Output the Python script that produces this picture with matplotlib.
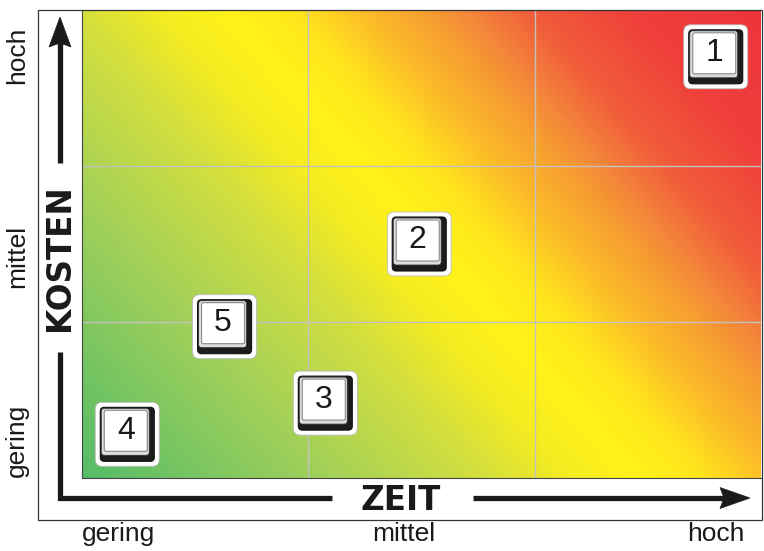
import numpy as np
import matplotlib
matplotlib.use('Agg')
import matplotlib.pyplot as plt
from matplotlib.colors import LinearSegmentedColormap
from matplotlib.patches import FancyBboxPatch, Rectangle, Polygon
import matplotlib.transforms as mtransforms
from matplotlib import font_manager

# ---------------- data ----------------
levels = ["gering", "mittel", "hoch"]
x_label_pos = [0.16, 1.42, 2.80]
y_label_pos = [0.24, 1.42, 2.71]
key_ids = ["1", "2", "3", "4", "5"]
key_zeit = [2.80, 1.49, 1.075, 0.20, 0.63]
key_kosten = [2.70, 1.50, 0.48, 0.28, 0.97]
x_axis_title = "ZEIT"
y_axis_title = "KOSTEN"

# ---------------- fonts ----------------
names = {f.name for f in font_manager.fontManager.ttflist}
label_font = 'Liberation Sans Narrow' if 'Liberation Sans Narrow' in names else 'Liberation Sans'
key_font = 'Liberation Sans'

W, H = 764, 551
fig = plt.figure(figsize=(W / 100, H / 100), dpi=100)


def fx(px):
    return px / W


def fy(py):
    return 1 - py / H


L, R, T, B = 82, 761, 10, 478
ax = fig.add_axes([fx(L), fy(B), (R - L) / W, (B - T) / H])
ax.set_xlim(0, 3)
ax.set_ylim(0, 3)

# gradient background
n = 600
gx = np.linspace(0, 3, n)
gy = np.linspace(0, 3, n)
GX, GY = np.meshgrid(gx, gy)
ppx = (R - L) / 3
ppy = (B - T) / 3
tt = ppx * GX + 0.875 * ppy * GY
tt = tt / tt.max()
stops = [(0.00, '#55bc68'), (0.21, '#9dcf5b'), (0.37, '#d4df3e'), (0.45, '#f6ec20'),
         (0.51, '#fff21a'), (0.57, '#ffe61c'), (0.64, '#fbb82a'), (0.69, '#f7a030'),
         (0.73, '#f4873a'), (0.79, '#f15c3a'), (0.88, '#ef403b'), (1.00, '#ee343b')]
cmap = LinearSegmentedColormap.from_list('heat', stops)
ax.imshow(tt, cmap=cmap, extent=(0, 3, 0, 3), origin='lower', aspect='auto',
          interpolation='bilinear', zorder=0)

# grid
ax.set_xticks([1, 2], minor=True)
ax.set_yticks([1, 2], minor=True)
ax.grid(which='minor', color='#c2c2c2', lw=1.0, zorder=1)
ax.set_xticks(x_label_pos)
ax.set_yticks(y_label_pos)
ax.set_xticklabels(levels, fontsize=19, family=label_font, color='#1a1a1a')
ax.set_yticklabels(levels, fontsize=19, family=label_font, color='#1a1a1a',
                   rotation=90, va='center')
ax.tick_params(which='both', length=0)
ax.tick_params(axis='x', pad=32)
ax.tick_params(axis='y', pad=38)
for s in ['top', 'right']:
    ax.spines[s].set_visible(False)
for s in ['left', 'bottom']:
    ax.spines[s].set_color('#444444')
    ax.spines[s].set_linewidth(0.8)

# keys
def rbox(trans, x0, y0, w, h, r, fc, ec, lw, z):
    p = FancyBboxPatch((x0 / 100, y0 / 100), w / 100, h / 100,
                       boxstyle=f"round,pad=0,rounding_size={r / 100}",
                       fc=fc, ec=ec, lw=lw, transform=trans, clip_on=False, zorder=z)
    ax.add_patch(p)


for kid, kx, ky in zip(key_ids, key_zeit, key_kosten):
    trans = fig.dpi_scale_trans + mtransforms.ScaledTranslation(kx, ky, ax.transData)
    rbox(trans, -32, -32, 64, 64, 7, 'white', '#bbbbbb', 0.6, 5)
    rbox(trans, -27, -27, 54, 54, 4, '#1c1c1c', '#111111', 0.8, 6)
    rbox(trans, -26, -21, 48, 47, 3, '#dcdcdc', '#333333', 0.6, 7)
    rbox(trans, -23, -17, 43, 41, 2, 'white', '#8a8a8a', 0.8, 8)
    ax.text(-1.5 / 100, 3.5 / 100, kid, transform=trans, ha='center', va='center',
            fontsize=23, family=key_font, color='#1a1a1a', zorder=9, clip_on=False)

# overlay for frame, arrows and titles
ov = fig.add_axes([0, 0, 1, 1], zorder=10)
ov.set_xlim(0, W)
ov.set_ylim(H, 0)
ov.axis('off')
ov.patch.set_alpha(0)

ov.add_patch(Rectangle((38, 9.5), 724, 510.5, fill=False, ec='#333333', lw=0.9))

ac = '#1a1a1a'
alw = 3.8
ov.plot([60, 60], [163, 42], lw=alw, color=ac, solid_capstyle='butt')
ov.add_patch(Polygon([(60, 17), (49, 47), (60, 43), (71, 47)], closed=True, fc=ac, ec=ac, lw=0.5))
ov.plot([60, 60, 332], [352, 498, 498], lw=alw, color=ac, solid_capstyle='butt',
        solid_joinstyle='miter')
ov.plot([473, 725], [498, 498], lw=alw, color=ac, solid_capstyle='butt')
ov.add_patch(Polygon([(750, 498), (720, 487.5), (724, 498), (720, 508.5)], closed=True,
                     fc=ac, ec=ac, lw=0.5))

ov.text(60, 258, y_axis_title, rotation=90, ha='center', va='center', fontsize=23.5,
        fontweight='bold', family='DejaVu Sans', color=ac)
ov.text(401, 500, x_axis_title, ha='center', va='center', fontsize=23.5,
        fontweight='bold', family='DejaVu Sans', color=ac)

fig.savefig('out.png', dpi=100)
